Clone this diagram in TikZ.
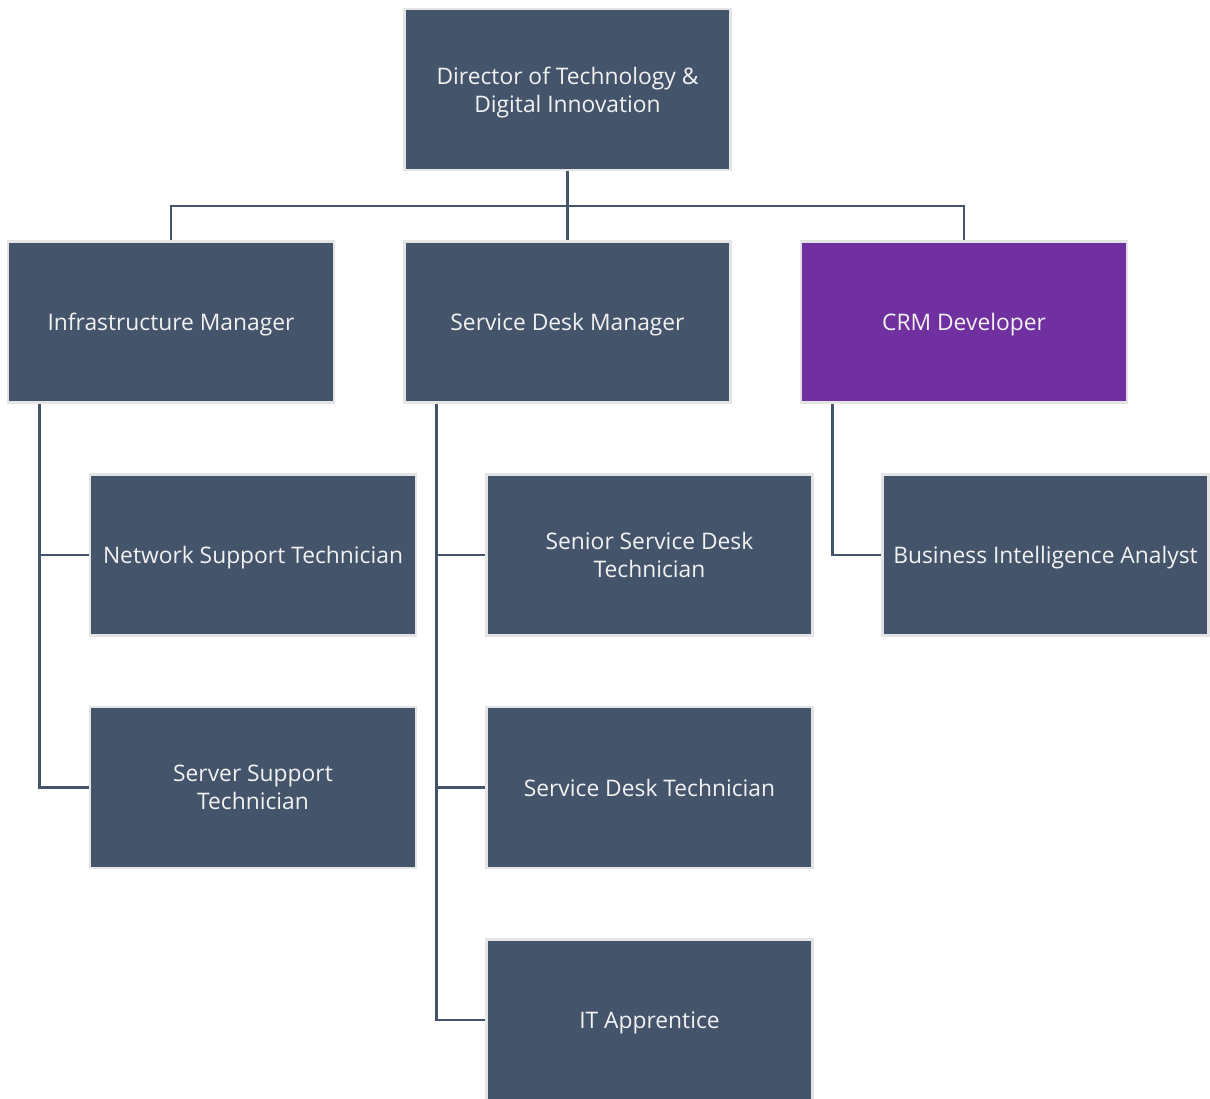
\documentclass[tikz,border=0pt]{standalone}
\usepackage{fontspec}
\setmainfont{Open Sans}
\definecolor{boxblue}{HTML}{44546A}
\definecolor{boxpurple}{HTML}{7030A0}
\definecolor{boxedge}{HTML}{E4E4E4}
\definecolor{txt}{HTML}{F2F2F2}
\begin{document}
\begin{tikzpicture}[x=1pt,y=-1pt,
  orgbox/.style={rectangle, fill=boxblue, draw=boxedge, line width=2.5pt,
    minimum width=326pt, minimum height=161pt, inner sep=0pt, text depth=0pt,
    text=txt, font=\fontsize{22.8}{28}\selectfont, align=center},
  link/.style={draw=boxblue, line width=2.8pt}]
\useasboundingbox[fill=white] (0,0) rectangle (1210,1099);
\node[orgbox] (dir) at (567.5,89.5) {Director of Technology \&\\Digital Innovation};
\node[orgbox] (inf) at (171,322) {Infrastructure Manager};
\node[orgbox] (sdm) at (567.5,322) {Service Desk Manager};
\node[orgbox, fill=boxpurple] (crm) at (964,322) {CRM Developer};
\node[orgbox] (net) at (253,555) {Network Support Technician};
\node[orgbox] (srv) at (253,787.5) {Server Support\\Technician};
\node[orgbox] (ssd) at (649.5,555) {Senior Service Desk\\Technician};
\node[orgbox] (sdt) at (649.5,787.5) {Service Desk Technician};
\node[orgbox] (ita) at (649.5,1020) {IT Apprentice};
\node[orgbox] (bia) at (1045.5,555) {Business Intelligence Analyst};
\coordinate (bus) at (567.5,206);
\draw[link] (dir.south) -- (sdm.north);
\draw[link] (inf.north) |- (bus) -| (crm.north);
\draw[link] ([xshift=33pt]inf.south west) |- (net.west);
\draw[link] ([xshift=33pt]inf.south west) |- (srv.west);
\draw[link] ([xshift=33pt]sdm.south west) |- (ssd.west);
\draw[link] ([xshift=33pt]sdm.south west) |- (sdt.west);
\draw[link] ([xshift=33pt]sdm.south west) |- (ita.west);
\draw[link] ([xshift=33pt]crm.south west) |- (bia.west);
\end{tikzpicture}
\end{document}
